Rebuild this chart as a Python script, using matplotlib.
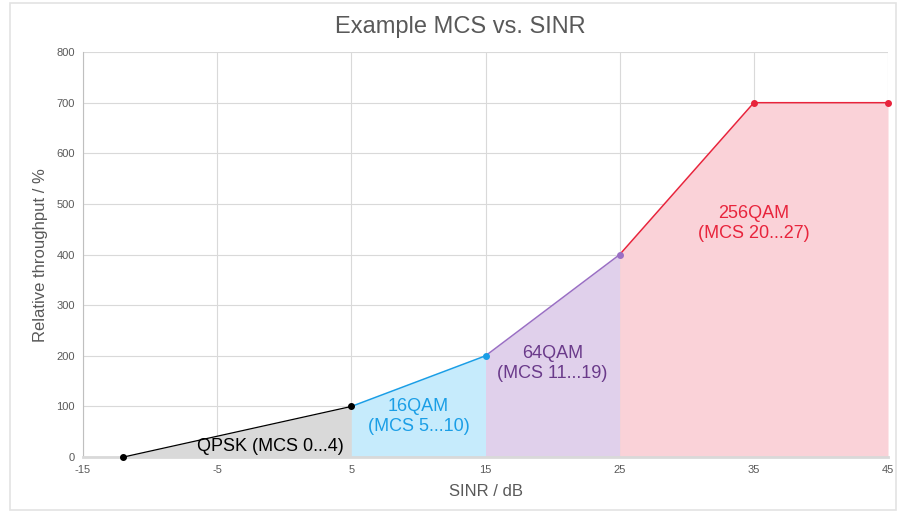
import matplotlib
matplotlib.use('Agg')
import matplotlib.pyplot as plt
from matplotlib.patches import Rectangle

plt.rcParams['font.family'] = ['Liberation Sans', 'DejaVu Sans']
plt.rcParams['axes.unicode_minus'] = False

# Data
sinr = [-12, 5, 15, 25, 35, 45]
throughput = [0, 100, 200, 400, 700, 700]

# Modulation regions: (start index, end index) into the points above
regions = [(0, 1), (1, 2), (2, 3), (3, 5)]
region_names = ['QPSK (MCS 0...4)', '16QAM\n(MCS 5...10)', '64QAM\n(MCS 11...19)', '256QAM\n(MCS 20...27)']
label_x = [-1, 10, 20, 35]
label_y = [20, 80, 185, 462]
line_colors = ['#000000', '#1a9ee6', '#9a6fc4', '#e8243c']
fill_colors = ['#d9d9d9', '#c6ebfc', '#e0d0eb', '#fad2d8']
text_colors = ['#000000', '#1a9ee6', '#6a3a8a', '#e8243c']

xticks = [-15, -5, 5, 15, 25, 35, 45]
yticks = [0, 100, 200, 300, 400, 500, 600, 700, 800]

fig = plt.figure(figsize=(8.97, 5.13), dpi=100)
ax = fig.add_axes([0.0925, 0.109, 0.8975, 0.7895])

for (i0, i1), lc, fc in zip(regions, line_colors, fill_colors):
    xs = sinr[i0:i1 + 1]
    ys = throughput[i0:i1 + 1]
    ax.fill_between(xs, 0, ys, color=fc, lw=0, zorder=2)
    ax.plot(xs, ys, color=lc, lw=1.1 if i0 else 0.9, zorder=3)

# markers, coloured like the segment they close
marker_colors = ['#000000', '#000000', '#1a9ee6', '#9a6fc4', '#e8243c', '#e8243c']
for x, y, c in zip(sinr, throughput, marker_colors):
    ax.plot(x, y, 'o', color=c, ms=4, zorder=4, clip_on=False)

for name, x, y, c in zip(region_names, label_x, label_y, text_colors):
    ax.text(x, y, name, color=c, fontsize=13, ha='center', va='center',
            linespacing=1.25, zorder=5)

ax.set_xlim(-15, 45)
ax.set_ylim(0, 800)
ax.set_xticks(xticks)
ax.set_yticks(yticks)
ax.tick_params(length=0, labelsize=8, colors='#595959', pad=6)
ax.grid(True, color='#d9d9d9', lw=0.8, zorder=0)
ax.set_axisbelow(True)
for side in ['top', 'right']:
    ax.spines[side].set_visible(False)
ax.spines['left'].set_color('#bfbfbf')
ax.spines['bottom'].set_color('#d9d9d9')
ax.spines['bottom'].set_linewidth(2)

fig.text(460 / 897, 1 - 27 / 513, 'Example MCS vs. SINR', fontsize=17,
         color='#595959', ha='center', va='center')
ax.set_xlabel('SINR / dB', fontsize=12, color='#595959', labelpad=6)
ax.set_ylabel('Relative throughput / %', fontsize=12, color='#595959', labelpad=6)

# light frame around the chart
fig.patches.append(Rectangle((10 / 897, 3 / 513), 886 / 897, 507 / 513,
                             transform=fig.transFigure, fill=False,
                             edgecolor='#e3e3e3', lw=1.2))

fig.savefig('out.png', dpi=100)
